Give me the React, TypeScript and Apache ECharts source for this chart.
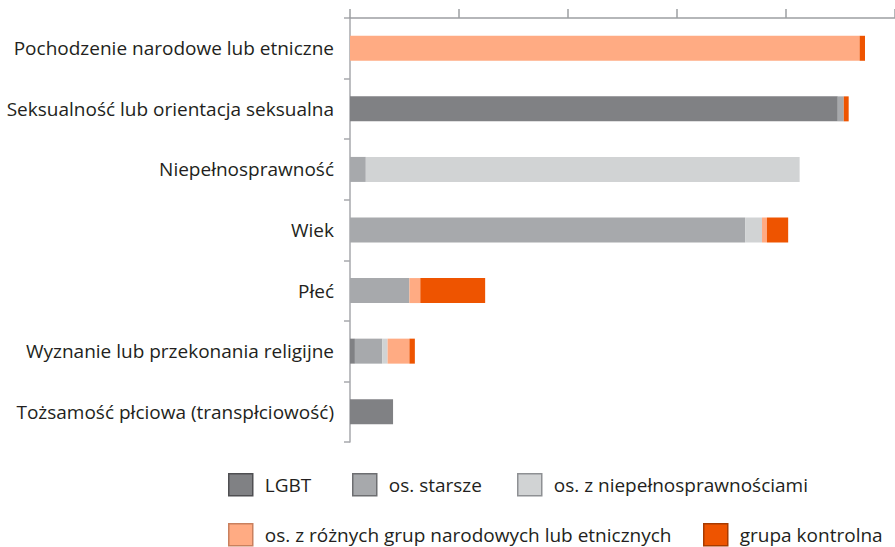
import React, { useEffect, useRef } from "react";
import * as echarts from "echarts";

const categories = [
  "Pochodzenie narodowe lub etniczne",
  "Seksualność lub orientacja seksualna",
  "Niepełnosprawność",
  "Wiek",
  "Płeć",
  "Wyznanie lub przekonania religijne",
  "Tożsamość płciowa (transpłciowość)",
];

const seriesNames = [
  "LGBT",
  "os. starsze",
  "os. z niepełnosprawnościami",
  "os. z różnych grup narodowych lub etnicznych",
  "grupa kontrolna",
];

const lgbt = [0, 89.5, 0, 0, 0, 0.9, 7.9];
const starsze = [0, 1.1, 2.9, 72.5, 10.9, 5.0, 0];
const niepelnosprawni = [0, 0, 79.6, 3.1, 0, 1.0, 0];
const etniczne = [93.5, 0, 0, 0.9, 2.0, 4.0, 0];
const kontrolna = [1.0, 0.9, 0, 3.9, 11.9, 1.0, 0];

const xTicks = [0, 20, 40, 60, 80, 100];

const colors = ["#808184", "#a7a9ac", "#d1d3d4", "#ffab83", "#ee5400"];
const borderColors = ["#4f4f52", "#6d6e71", "#8e9093", "#c9805e", "#a83b00"];

const legendPos = [
  { left: 228, top: 473 },
  { left: 352, top: 473 },
  { left: 517, top: 473 },
  { left: 228, top: 523 },
  { left: 703, top: 523 },
];

const FONT = "'Open Sans', 'Noto Sans', sans-serif";

export default function App() {
  const ref = useRef<HTMLDivElement>(null);

  useEffect(() => {
    if (!ref.current) return;
    const chart = echarts.init(ref.current, undefined, { renderer: "svg" });
    const dataSets = [lgbt, starsze, niepelnosprawni, etniczne, kontrolna];
    chart.setOption({
      animation: false,
      backgroundColor: "#ffffff",
      grid: { left: 350, top: 18, width: 550, height: 424, containLabel: false },
      xAxis: {
        type: "value",
        position: "top",
        min: 0,
        max: 100,
        interval: 20,
        axisLabel: { show: false },
        splitLine: { show: false },
        axisLine: { show: true, lineStyle: { color: "#9d9fa2", width: 1.5 } },
        axisTick: {
          show: true,
          length: 9,
          customValues: xTicks,
          lineStyle: { color: "#9d9fa2", width: 1.5 },
        },
      },
      yAxis: {
        type: "category",
        inverse: true,
        data: categories,
        axisLine: { show: true, lineStyle: { color: "#a7a9ac", width: 1.5 } },
        axisTick: { show: true, length: 6, lineStyle: { color: "#a7a9ac", width: 1.5 } },
        axisLabel: {
          fontSize: 19,
          color: "#231f20",
          margin: 16,
          fontFamily: FONT,
        },
      },
      legend: seriesNames.map((name, i) => ({
        data: [name],
        left: legendPos[i].left,
        top: legendPos[i].top,
        padding: 0,
        itemWidth: 24,
        itemHeight: 22,
        icon: "rect",
        itemStyle: { borderColor: borderColors[i], borderWidth: 1.5 },
        textStyle: {
          fontSize: 19,
          lineHeight: 19,
          color: "#231f20",
          fontFamily: FONT,
          padding: [0, 0, 0, 7],
        },
        selectedMode: false,
      })),
      series: seriesNames.map((name, i) => ({
        name,
        type: "bar",
        stack: "total",
        barWidth: 25,
        data: dataSets[i],
        itemStyle: { color: colors[i] },
        emphasis: { disabled: true },
      })),
    });
    return () => chart.dispose();
  }, []);

  return (
    <div
      ref={ref}
      style={{ position: "fixed", left: 0, top: 0, width: 895, height: 547 }}
    />
  );
}
